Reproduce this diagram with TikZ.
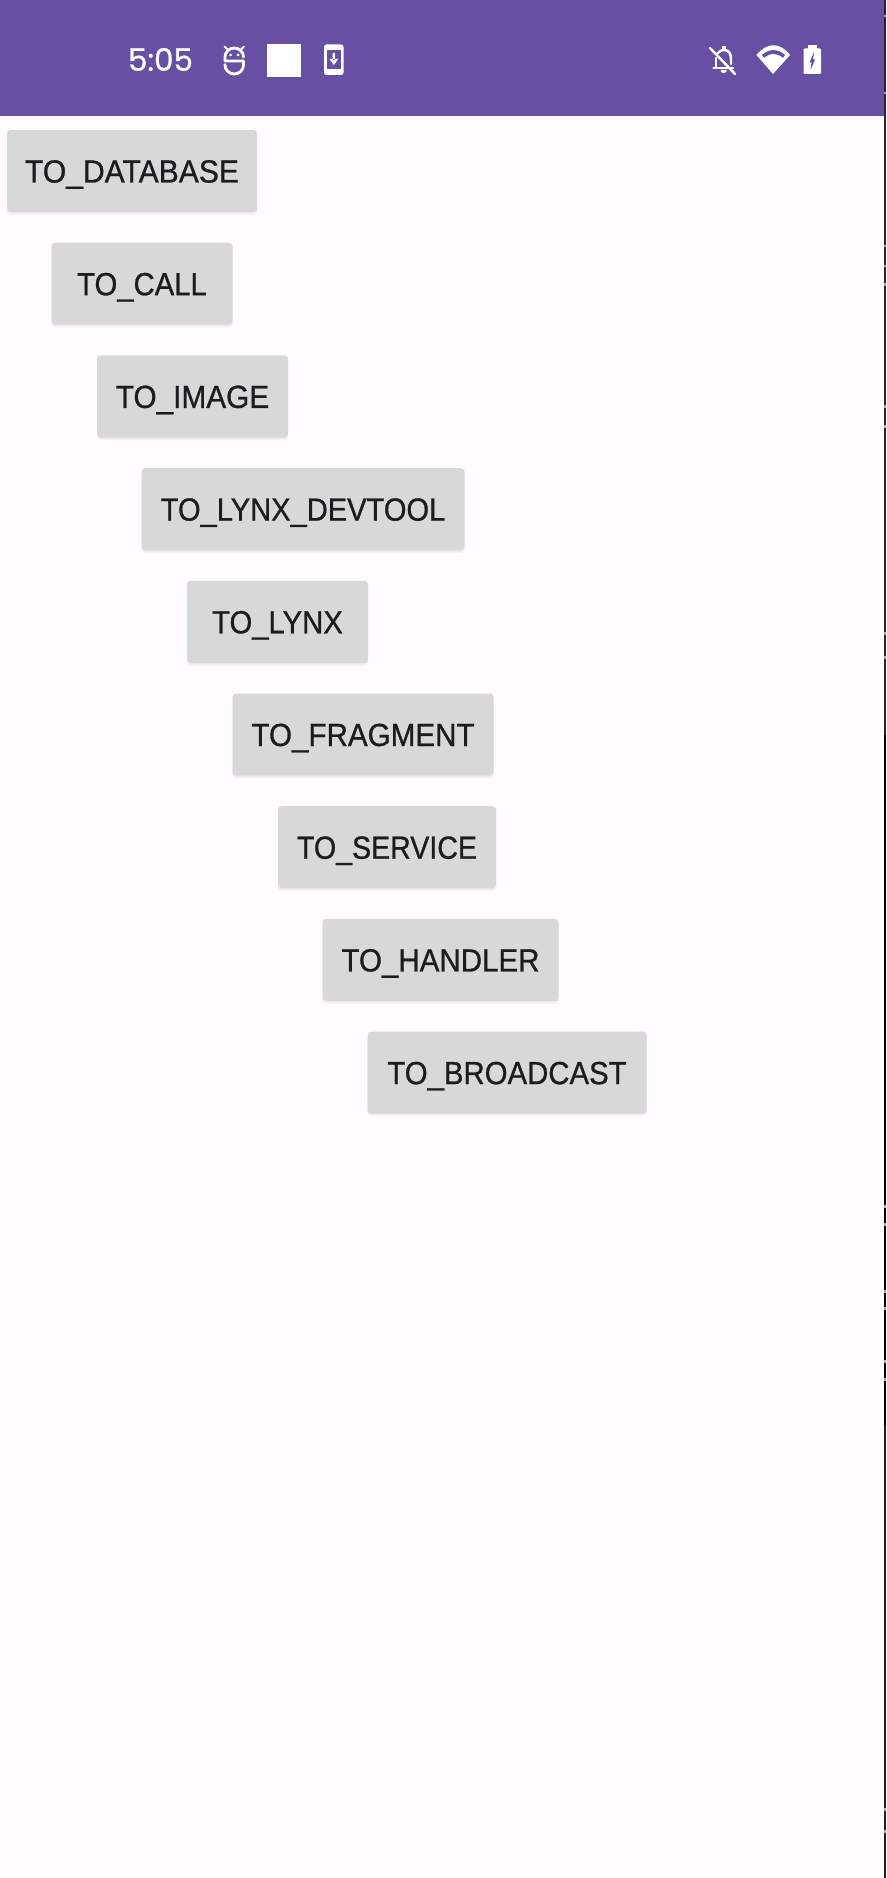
\documentclass[tikz,border=0pt]{standalone}
\usepackage{fontspec}
\usepackage{graphicx}
\setmainfont{Liberation Sans}
\newfontfamily\btnfont[FakeStretch=0.94,FakeBold=0.8]{Liberation Sans}
\newfontfamily\clockfont[FakeBold=0.6]{Poppins}
\definecolor{barpurple}{HTML}{6750A3}
\definecolor{pagebg}{HTML}{FFFBFE}
\definecolor{btnfill}{HTML}{D8D8D8}
\definecolor{btntext}{HTML}{1C1B1F}
\newcommand{\btnw}[2]{\scalebox{#1}[1]{#2}}
\tikzset{
  btn/.style={rectangle,rounded corners=3.5pt,fill=btnfill,text=btntext,inner sep=0pt,
    minimum height=82pt,text height=23pt,text depth=0pt,font=\btnfont\fontsize{32}{36}\selectfont,
    preaction={fill=black,opacity=.03,transform canvas={yshift=-3pt}},
    preaction={fill=black,opacity=.04,transform canvas={yshift=-1.5pt}}},
  iconline/.style={draw=white,line width=2.8pt,line cap=round,line join=round},
}
\begin{document}
\begin{tikzpicture}[x=1pt,y=-1pt]
\useasboundingbox (0,0) rectangle (886,1878);
\fill[pagebg] (0,0) rectangle (886,1878);
\fill[barpurple] (0,0) rectangle (884,116.5);
% right edge strip
\fill[black!85] (884,0) rectangle (886,735);
\fill[black] (884,735) rectangle (886,1425);
\fill[black!88] (884,1425) rectangle (886,1878);
\foreach \yy in {15,92,245,265,283,405,425,632,656,1205,1223,1290,1307,1360,1378,1808,1830}
  \fill[gray!70] (884,\yy) rectangle (886,\yy+2.5);
% clock
\node[text=white,inner sep=0pt,font=\clockfont\fontsize{31}{34}\selectfont] (clock) at (160.5,59.5) {5:05};
% android icon
\draw[iconline] (243.5,57) arc[start angle=0,end angle=-180,x radius=9.25,y radius=9] -- (225,61) -- (243.5,61) -- (243.5,65) arc[start angle=0,end angle=180,x radius=9.25,y radius=9] -- (225,64.5);
\draw[iconline,line width=2pt] (224.5,46.5) -- (227.5,49.5);
\draw[iconline,line width=2pt] (244,46.5) -- (241,49.5);
\fill[white] (230.5,55) circle (1.5pt) (238,55) circle (1.5pt);
% square
\fill[white] (267,44) rectangle (301,77);
% phone download icon
\fill[white,rounded corners=2.5pt] (324,44.5) rectangle (343.5,75);
\fill[barpurple] (327,50) rectangle (340.5,69.5);
\fill[white] (332.7,53) rectangle (334.9,60) (329.5,59) -- (338.1,59) -- (333.8,65) -- cycle;
% bell off icon
\draw[iconline,line width=2.4pt] (713.5,68) -- (733,68);
\draw[iconline,line width=2.4pt] (716,58) -- (716,68);
\draw[iconline,line width=2.4pt] (718,53) .. controls (721,50) and (723,50) .. (724,50) .. controls (729,50) and (731,54) .. (731,59) -- (731,64);
\fill[white] (722,49.5) rectangle (726,46);
\fill[white] (720.5,70) arc[start angle=180,end angle=0,x radius=3.2,y radius=3.2] -- cycle;
\draw[iconline,line width=2.4pt] (710,48) -- (735,74);
% wifi icon
\fill[white] (756.5,55) .. controls (767,42) and (780,42) .. (790,55) -- (773,74) -- cycle;
\fill[barpurple] (762,55) .. controls (769,48.5) and (778,48.5) .. (785,55) -- (783,57.8) .. controls (776,52.5) and (771,52.5) .. (764,57.8) -- cycle;
% battery icon
\fill[white,rounded corners=1.2pt] (803.5,48.5) rectangle (821,74);
\fill[white] (808,45) rectangle (816.5,49);
\fill[barpurple] (814,52) -- (809.5,62.5) -- (811.5,62.5) -- (810.5,70) -- (815,59.5) -- (813,59.5) -- cycle;
% buttons
\node[btn,minimum width=250pt] (b1) at (132,171) {TO\_DATABASE};
\node[btn,minimum width=181pt] (b2) at (142,283.7) {\btnw{.973}{TO\_CALL}};
\node[btn,minimum width=191pt] (b3) at (192.5,396.4) {\btnw{.99}{TO\_IMAGE}};
\node[btn,minimum width=323pt] (b4) at (303,509.1) {\btnw{.967}{TO\_LYNX\_DEVTOOL}};
\node[btn,minimum width=181pt] (b5) at (277.5,621.8) {\btnw{.973}{TO\_LYNX}};
\node[btn,minimum width=261pt] (b6) at (363,734.5) {\btnw{.984}{TO\_FRAGMENT}};
\node[btn,minimum width=218pt] (b7) at (387,847.2) {\btnw{.95}{TO\_SERVICE}};
\node[btn,minimum width=236pt] (b8) at (440.5,959.9) {\btnw{.982}{TO\_HANDLER}};
\node[btn,minimum width=279pt] (b9) at (507,1072.6) {\btnw{.976}{TO\_BROADCAST}};
\end{tikzpicture}
\end{document}
